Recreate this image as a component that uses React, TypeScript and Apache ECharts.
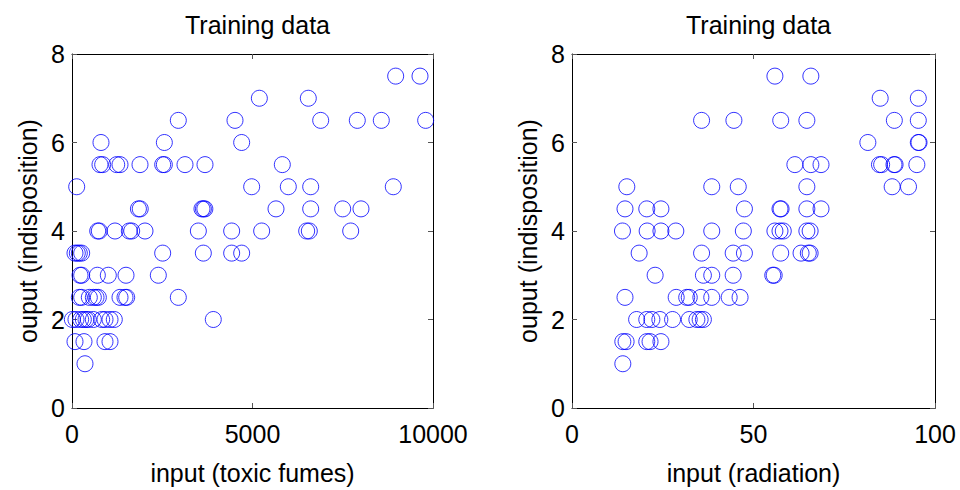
import React, { useEffect, useRef } from "react";
import * as echarts from "echarts";

const titleText = "Training data";
const yAxisName = "ouput (indisposition)";
const leftXName = "input (toxic fumes)";
const rightXName = "input (radiation)";

const toxicX = [
  8966, 9640,
  5190, 6546,
  2945, 4515, 6889, 7903, 8568, 9797,
  803, 2558, 4700,
  776, 850, 1238, 1330, 1884, 2512, 2558, 3130, 3684, 5826,
  130, 4977, 5992, 6612, 8900,
  1840, 1890, 3600, 3640, 3680, 5651, 6612, 7498, 8005,
  712, 756, 1191, 1588, 1653, 2022, 3500, 4423, 5254, 6501, 6574, 7720,
  83, 147, 203, 268, 2512, 3638, 4423, 4700,
  222, 268, 702, 1006, 1496, 2391,
  203, 268, 480, 591, 665, 730, 1330, 1468, 1515, 2945,
  10, 110, 240, 314, 388, 452, 591, 822, 914, 1053, 1172, 3914,
  83, 332, 914, 1053,
  360,
];
const toxicY = [
  7.5, 7.5,
  7, 7,
  6.5, 6.5, 6.5, 6.5, 6.5, 6.5,
  6, 6, 6,
  5.5, 5.5, 5.5, 5.5, 5.5, 5.5, 5.5, 5.5, 5.5, 5.5,
  5, 5, 5, 5, 5,
  4.5, 4.5, 4.5, 4.5, 4.5, 4.5, 4.5, 4.5, 4.5,
  4, 4, 4, 4, 4, 4, 4, 4, 4, 4, 4, 4,
  3.5, 3.5, 3.5, 3.5, 3.5, 3.5, 3.5, 3.5,
  3, 3, 3, 3, 3, 3,
  2.5, 2.5, 2.5, 2.5, 2.5, 2.5, 2.5, 2.5, 2.5, 2.5,
  2, 2, 2, 2, 2, 2, 2, 2, 2, 2, 2, 2,
  1.5, 1.5, 1.5, 1.5,
  1,
];

const radiationX = [
  55.9, 65.8,
  84.9, 95.4,
  35.7, 44.6, 57.5, 64.7, 88.8, 95.4,
  81.5, 95.4, 95.6,
  61.4, 65.8, 68.6, 84.7, 85.3, 88.7, 89.0, 95.0,
  15.1, 38.5, 45.8, 64.7, 88.2, 92.7,
  14.6, 20.6, 24.5, 47.5, 57.3, 57.6, 64.7, 68.6,
  13.9, 20.7, 24.5, 28.6, 38.5, 47.2, 55.9, 57.3, 58.2, 64.7, 65.6,
  18.5, 35.7, 44.4, 47.5, 57.5, 63.1, 65.1, 65.6,
  22.9, 36.2, 38.5, 44.4, 55.3, 55.7,
  14.6, 28.7, 31.6, 32.3, 35.5, 38.5, 43.3, 46.3,
  17.8, 20.6, 22.0, 24.2, 27.7, 32.3, 34.4, 35.3, 36.2,
  14.0, 14.9, 20.6, 21.5, 24.5,
  14.0,
];
const radiationY = [
  7.5, 7.5,
  7, 7,
  6.5, 6.5, 6.5, 6.5, 6.5, 6.5,
  6, 6, 6,
  5.5, 5.5, 5.5, 5.5, 5.5, 5.5, 5.5, 5.5,
  5, 5, 5, 5, 5, 5,
  4.5, 4.5, 4.5, 4.5, 4.5, 4.5, 4.5, 4.5,
  4, 4, 4, 4, 4, 4, 4, 4, 4, 4, 4,
  3.5, 3.5, 3.5, 3.5, 3.5, 3.5, 3.5, 3.5,
  3, 3, 3, 3, 3, 3,
  2.5, 2.5, 2.5, 2.5, 2.5, 2.5, 2.5, 2.5,
  2, 2, 2, 2, 2, 2, 2, 2, 2,
  1.5, 1.5, 1.5, 1.5, 1.5,
  1,
];

const FONT = "'Liberation Sans', Arial, sans-serif";
const FS = 25;

export default function App() {
  const ref = useRef<HTMLDivElement>(null);
  useEffect(() => {
    if (!ref.current) return;
    const chart = echarts.init(ref.current, undefined, { renderer: "svg" });

    const grids = [
      { left: 72, top: 54, width: 361, height: 362 },
      { left: 572, top: 54, width: 363, height: 362 },
    ];
    const xRanges = [
      { min: 0, max: 10000, interval: 5000, name: leftXName },
      { min: 0, max: 100, interval: 50, name: rightXName },
    ];

    const lineStyle = { color: "#000", width: 1 };
    const tickStyle = { show: true, inside: true, length: 5, lineStyle: { color: "#555", width: 1 } };

    const xAxis: any[] = [];
    const yAxis: any[] = [];
    grids.forEach((g, i) => {
      const r = xRanges[i];
      xAxis.push({
        type: "value",
        gridIndex: i,
        position: "bottom",
        min: r.min,
        max: r.max,
        interval: r.interval,
        name: r.name,
        nameLocation: "middle",
        nameGap: 52,
        nameTextStyle: { fontFamily: FONT, fontSize: FS, color: "#000" },
        axisLine: { show: true, onZero: false, lineStyle },
        axisTick: tickStyle,
        splitLine: { show: false },
        axisLabel: {
          fontFamily: FONT,
          fontSize: FS,
          color: "#000",
          margin: 13,
          showMinLabel: true,
          showMaxLabel: true,
          formatter: (v: number) => String(v),
        },
      });
      xAxis.push({
        type: "value",
        gridIndex: i,
        position: "top",
        min: r.min,
        max: r.max,
        interval: r.interval,
        axisLine: { show: true, onZero: false, lineStyle },
        axisTick: tickStyle,
        splitLine: { show: false },
        axisLabel: { show: false },
      });
      yAxis.push({
        type: "value",
        gridIndex: i,
        position: "left",
        min: 0,
        max: 8,
        interval: 2,
        name: yAxisName,
        nameLocation: "middle",
        nameGap: 32,
        nameTextStyle: { fontFamily: FONT, fontSize: FS, color: "#000" },
        axisLine: { show: true, onZero: false, lineStyle },
        axisTick: tickStyle,
        splitLine: { show: false },
        axisLabel: { fontFamily: FONT, fontSize: FS, color: "#000", margin: 7 },
      });
      yAxis.push({
        type: "value",
        gridIndex: i,
        position: "right",
        min: 0,
        max: 8,
        interval: 2,
        axisLine: { show: true, onZero: false, lineStyle },
        axisTick: tickStyle,
        splitLine: { show: false },
        axisLabel: { show: false },
      });
    });

    const mk = (xs: number[], ys: number[]) => xs.map((x, k) => [x, ys[k]]);
    const symbolStyle = { color: "rgba(0,0,0,0)", borderColor: "#0000ff", borderWidth: 1 };

    chart.setOption({
      animation: false,
      backgroundColor: "#fff",
      title: grids.map((g) => ({
        text: titleText,
        left: g.left + g.width / 2,
        top: 7,
        textAlign: "center",
        textStyle: { fontFamily: FONT, fontSize: FS, fontWeight: "normal", color: "#000" },
      })),
      grid: grids,
      xAxis,
      yAxis,
      series: [
        {
          type: "scatter",
          xAxisIndex: 0,
          yAxisIndex: 0,
          symbol: "circle",
          symbolSize: 16,
          itemStyle: symbolStyle,
          data: mk(toxicX, toxicY),
        },
        {
          type: "scatter",
          xAxisIndex: 2,
          yAxisIndex: 2,
          symbol: "circle",
          symbolSize: 16,
          itemStyle: symbolStyle,
          data: mk(radiationX, radiationY),
        },
      ],
    });
    return () => chart.dispose();
  }, []);
  return (
    <div
      ref={ref}
      style={{ position: "fixed", left: 0, top: 0, width: 960, height: 490, background: "#fff" }}
    />
  );
}
